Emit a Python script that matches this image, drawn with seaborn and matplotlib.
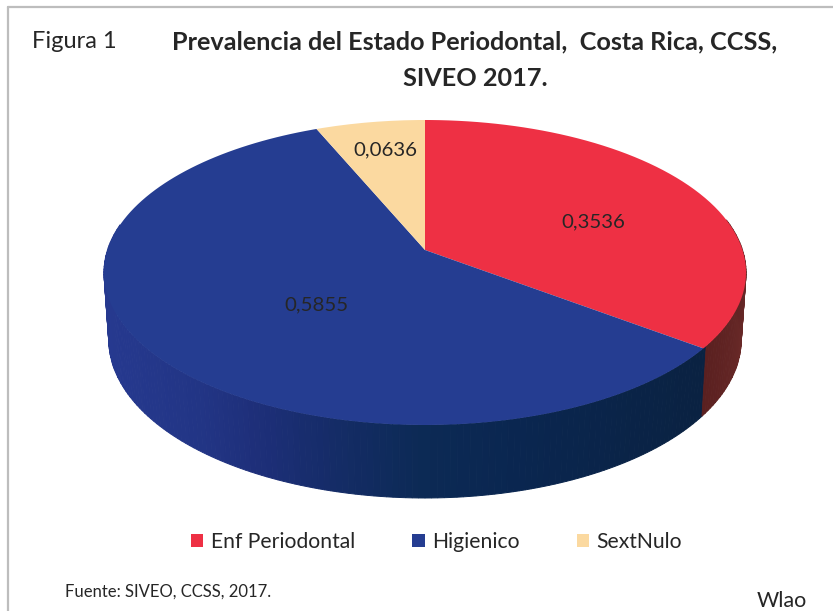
import matplotlib
matplotlib.use("Agg")
import matplotlib.pyplot as plt
import matplotlib.colors as mcolors
from matplotlib.path import Path
from matplotlib.transforms import Affine2D, Transform
import numpy as np
import seaborn as sns

categories = ["Enf Periodontal", "Higienico", "SextNulo"]
prevalence = [0.3536, 0.5855, 0.0636]

TITLE_LINES = ["Prevalencia del Estado Periodontal,  Costa Rica, CCSS,", "SIVEO 2017."]
FIGURE_TAG = "Figura 1"
SOURCE = "Fuente: SIVEO, CCSS, 2017."
AUTHOR = "Wlao"

sns.set_theme(style="white")
plt.rcParams["font.family"] = ["Lato", "DejaVu Sans"]
palette = sns.color_palette(["#EE3044", "#253D91", "#FBD9A0"])
INK = "#262626"

# Disc geometry in canvas pixels
APEX = (425.0, 250.0)
TILT_K = 0.1475
TILT_E = -112.3
HALF_W = 317.5
WALL_SIDE_DEPTH = 66.0
WALL_FRONT_EXTRA = 7.0
WALL_SHRINK = 0.985


def tilt(u, v):
    """Project the unit disc onto the canvas as seen from above."""
    w = 1 + TILT_K * v
    return APEX[0] + HALF_W * u / w, (APEX[1] + TILT_E * v) / w


class TiltTransform(Transform):
    input_dims = 2
    output_dims = 2

    def transform_non_affine(self, values):
        values = np.asarray(values, dtype=float)
        x, y = tilt(values[:, 0], values[:, 1])
        return np.column_stack([x, y])

    def transform_path_non_affine(self, path):
        scale = 600.0
        poly = path.transformed(Affine2D().scale(scale)).to_polygons(closed_only=False)[0] / scale
        return Path(self.transform_non_affine(poly))


fig = plt.figure(figsize=(8.33, 6.11), dpi=100, facecolor="white")
ax = fig.add_axes([0, 0, 1, 1])

wedges, _ = ax.pie(prevalence, colors=palette, startangle=90, counterclock=False,
                   radius=1, wedgeprops={"linewidth": 0})

ax.set_aspect("auto")
ax.set_xlim(0, 833)
ax.set_ylim(611, 0)
ax.axis("off")

projection = TiltTransform() + ax.transData
for wedge in wedges:
    wedge.set_transform(projection)
    wedge.set_zorder(3)

# Outer wall of the disc, shaded from left to right along the canvas
blue_cmap = mcolors.LinearSegmentedColormap.from_list("wall_blue", [
    (0.00, "#26398F"), (0.16, "#223585"), (0.25, "#1E2F7A"), (0.38, "#152C68"),
    (0.53, "#0C2A55"), (0.70, "#0A2650"), (1.00, "#0A2242")])
red_cmap = mcolors.LinearSegmentedColormap.from_list("wall_red", ["#5A2020", "#6A2A28", "#5A1F20"])

boundary = wedges[0].theta1 + 360.0  # red/blue edge on the near side
for t0 in np.arange(170.0, 372.0, 1.0):
    th = np.radians(np.linspace(t0, t0 + 1.0, 4))
    x, y = tilt(np.cos(th), np.sin(th))
    depth = WALL_SIDE_DEPTH + WALL_FRONT_EXTRA * np.clip(-np.sin(th), 0, 1)
    x2 = APEX[0] + (x - APEX[0]) * WALL_SHRINK
    xs = np.concatenate([x, x2[::-1]])
    ys = np.concatenate([y, (y + depth)[::-1]])
    if t0 < boundary:
        color = blue_cmap(np.clip((x.mean() - 104.0) / 596.0, 0, 1))
    else:
        color = red_cmap((t0 - boundary) / (372.0 - boundary))
    ax.fill(xs, ys, facecolor=color, edgecolor=color, linewidth=0.7, zorder=2)

# Frame lines along the top and left of the sheet
ax.plot([8, 833], [7, 7], color="#BDBDBD", lw=1.6, zorder=1)
ax.plot([8, 8], [7, 611], color="#BDBDBD", lw=1.6, zorder=1)

ax.text(32, 41, FIGURE_TAG, fontsize=17, color=INK, va="center", ha="left")
ax.text(475, 42, TITLE_LINES[0], fontsize=18.2, fontweight="bold", color=INK, va="center", ha="center")
ax.text(475, 78, TITLE_LINES[1], fontsize=18.2, fontweight="bold", color=INK, va="center", ha="center")

label_positions = [(593, 222), (316, 305), (385, 150)]
for value, (lx, ly) in zip(prevalence, label_positions):
    ax.text(lx, ly, f"{value:.4f}".replace(".", ","), fontsize=14.7, color=INK,
            ha="center", va="center", zorder=5)

legend = ax.legend(wedges, categories, ncols=3, loc="center", frameon=False,
                   bbox_to_anchor=(436.5 / 833, 1 - 542 / 611), bbox_transform=fig.transFigure,
                   fontsize=15.2, handlelength=0.6, handleheight=0.6, handletextpad=0.35,
                   columnspacing=2.7, labelcolor=INK)
for handle in legend.get_patches():
    handle.set_linewidth(0)

ax.text(65, 592, SOURCE, fontsize=12, color=INK, va="center", ha="left")
ax.text(757, 601, AUTHOR, fontsize=15.5, color=INK, va="center", ha="left")

fig.savefig("out.png", dpi=100, facecolor="white")
